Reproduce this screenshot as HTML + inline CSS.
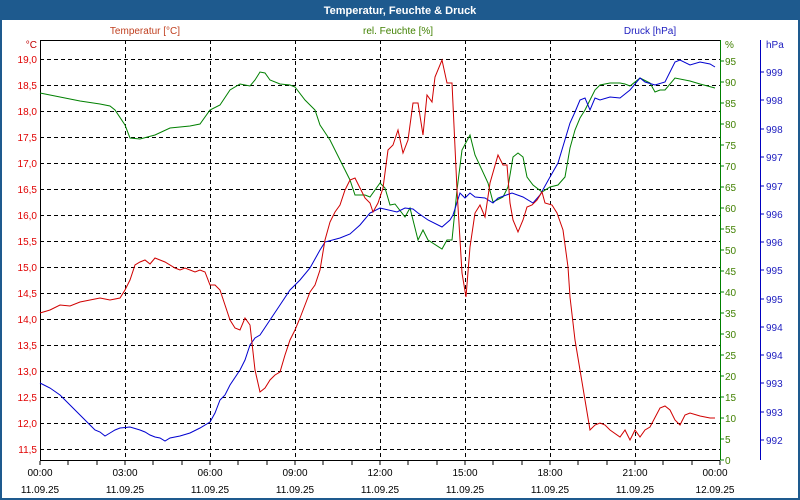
<!DOCTYPE html>
<html><head><meta charset="utf-8"><style>
html,body{margin:0;padding:0;background:#fff}
svg{display:block;font-family:"Liberation Sans",sans-serif}
</style></head><body>
<svg width="800" height="500" viewBox="0 0 800 500" xmlns="http://www.w3.org/2000/svg">
<rect x="0" y="0" width="800" height="500" fill="#fff"/>
<rect x="1" y="1" width="798" height="498" fill="none" stroke="#1e5a8e" stroke-width="2"/>
<rect x="0" y="0" width="800" height="20" fill="#1e5a8e"/>
<text x="400" y="14" font-size="11" font-weight="bold" fill="#fff" text-anchor="middle">Temperatur, Feuchte &amp; Druck</text>
<text x="145" y="34" font-size="10" fill="#c04020" text-anchor="middle">Temperatur [°C]</text>
<text x="398" y="34" font-size="10" fill="#408000" text-anchor="middle">rel. Feuchte [%]</text>
<text x="650" y="34" font-size="10" fill="#2020c0" text-anchor="middle">Druck [hPa]</text>
<g stroke="#000" stroke-dasharray="4,3" stroke-width="1">
<path d="M125.5 40V460M210.5 40V460M295.5 40V460M380.5 40V460M465.5 40V460M550.5 40V460M635.5 40V460"/>
<path d="M40 59.5H720M40 85.5H720M40 111.5H720M40 137.5H720M40 163.5H720M40 189.5H720M40 215.5H720M40 241.5H720M40 267.5H720M40 293.5H720M40 319.5H720M40 345.5H720M40 371.5H720M40 397.5H720M40 423.5H720M40 449.5H720"/>
</g>
<path d="M40.5 40V460.5H720M40 40.5H720" stroke="#000" fill="none"/>
<path d="M720.5 40V460" stroke="#008000"/>
<path d="M760.5 40V460" stroke="#0000c0"/>
<g stroke="#000"><path d="M40 461v4M68 461v4M97 461v4M125 461v4M153 461v4M182 461v4M210 461v4M238 461v4M267 461v4M295 461v4M323 461v4M352 461v4M380 461v4M408 461v4M437 461v4M465 461v4M493 461v4M522 461v4M550 461v4M578 461v4M607 461v4M635 461v4M663 461v4M692 461v4M720 461v4"/></g>
<g font-size="10" fill="#000" text-anchor="middle">
<text x="40" y="476">00:00</text><text x="40" y="493">11.09.25</text>
<text x="125" y="476">03:00</text><text x="125" y="493">11.09.25</text>
<text x="210" y="476">06:00</text><text x="210" y="493">11.09.25</text>
<text x="295" y="476">09:00</text><text x="295" y="493">11.09.25</text>
<text x="380" y="476">12:00</text><text x="380" y="493">11.09.25</text>
<text x="465" y="476">15:00</text><text x="465" y="493">11.09.25</text>
<text x="550" y="476">18:00</text><text x="550" y="493">11.09.25</text>
<text x="635" y="476">21:00</text><text x="635" y="493">11.09.25</text>
<text x="715" y="476">00:00</text><text x="715" y="493">12.09.25</text>
</g>
<g font-size="10" fill="#e00000" text-anchor="end">
<text x="37" y="48" fill="#c00000">°C</text>
<text x="37" y="63">19,0</text><text x="37" y="89">18,5</text><text x="37" y="115">18,0</text><text x="37" y="141">17,5</text><text x="37" y="167">17,0</text><text x="37" y="193">16,5</text><text x="37" y="219">16,0</text><text x="37" y="245">15,5</text><text x="37" y="271">15,0</text><text x="37" y="297">14,5</text><text x="37" y="323">14,0</text><text x="37" y="349">13,5</text><text x="37" y="375">13,0</text><text x="37" y="401">12,5</text><text x="37" y="427">12,0</text><text x="37" y="453">11,5</text>
</g>
<g stroke="#008000"><path d="M720 61h4M720 82h4M720 103h4M720 124h4M720 145h4M720 166h4M720 187h4M720 208h4M720 229h4M720 250h4M720 271h4M720 292h4M720 313h4M720 334h4M720 355h4M720 376h4M720 397h4M720 418h4M720 439h4M720 460h4"/></g>
<g font-size="10" fill="#408000">
<text x="725" y="48">%</text>
<text x="725" y="65">95</text><text x="725" y="86">90</text><text x="725" y="107">85</text><text x="725" y="128">80</text><text x="725" y="149">75</text><text x="725" y="170">70</text><text x="725" y="191">65</text><text x="725" y="212">60</text><text x="725" y="233">55</text><text x="725" y="254">50</text><text x="725" y="275">45</text><text x="725" y="296">40</text><text x="725" y="317">35</text><text x="725" y="338">30</text><text x="725" y="359">25</text><text x="725" y="380">20</text><text x="725" y="401">15</text><text x="725" y="422">10</text><text x="725" y="443">5</text><text x="725" y="464">0</text>
</g>
<g stroke="#0000c0"><path d="M760 72h4M760 100h4M760 129h4M760 157h4M760 186h4M760 214h4M760 242h4M760 270h4M760 299h4M760 327h4M760 355h4M760 383h4M760 412h4M760 440h4"/></g>
<g font-size="10" fill="#2020c0">
<text x="766" y="48">hPa</text>
<text x="766" y="76">999</text><text x="766" y="104">998</text><text x="766" y="133">998</text><text x="766" y="161">997</text><text x="766" y="190">997</text><text x="766" y="218">996</text><text x="766" y="246">996</text><text x="766" y="274">995</text><text x="766" y="303">995</text><text x="766" y="331">994</text><text x="766" y="359">994</text><text x="766" y="387">993</text><text x="766" y="416">993</text><text x="766" y="444">992</text>
</g>
<polyline fill="none" stroke="#008000" stroke-width="1" points="40,93 60,97 80,101 100,104 110,106 115,110 125,125 130,138 140,139 155,135 170,128 190,126 200,124 210,110 220,105 230,90 240,84 250,86 255,80 260,72 265,73 270,80 280,84 290,85 295,87 305,100 315,110 320,125 330,140 340,160 345,170 350,180 355,195 365,195 370,197 380,183 385,188 390,205 395,204 405,217 410,208 418,240 423,230 428,240 442,249 447,240 452,240 457,190 462,150 470,135 475,155 488,183 493,202 503,197 508,187 513,157 518,153 523,157 527,177 533,185 542,192 550,187 558,185 565,177 570,148 575,130 580,118 585,110 590,100 595,90 600,85 610,83 620,83 625,84 630,86 640,78 650,83 655,92 660,90 665,90 675,78 690,81 700,84 715,88"/>
<polyline fill="none" stroke="#0000d0" stroke-width="1" points="40,383 50,388 60,395 65,400 70,405 80,415 90,425 95,430 100,432 105,436 110,433 115,430 120,428 130,427 140,430 145,432 150,435 155,437 160,438 165,441 170,438 180,436 190,433 200,428 210,422 215,413 220,400 225,395 230,385 240,370 245,360 250,345 255,338 260,335 270,320 280,305 290,290 300,280 310,268 320,250 325,242 340,238 350,234 360,225 370,213 380,208 397,212 405,208 413,209 418,213 428,220 442,227 450,220 453,215 460,193 465,198 470,193 475,197 485,198 493,203 498,198 512,193 523,197 533,203 540,195 550,177 558,163 570,123 575,112 580,100 585,98 590,110 595,98 600,100 610,97 620,98 630,90 640,78 645,82 655,85 665,82 675,62 680,60 690,65 700,62 710,64 715,67"/>
<polyline fill="none" stroke="#d00000" stroke-width="1" points="40,313 50,310 60,305 70,306 80,302 90,300 100,298 110,300 120,298 125,290 130,280 135,265 140,262 145,260 150,264 155,258 165,262 175,268 180,270 185,268 195,272 200,270 205,272 210,285 215,285 220,290 225,305 230,320 235,328 240,330 245,318 250,325 255,370 260,392 265,388 270,380 275,375 280,372 285,355 290,340 295,330 300,318 305,305 310,292 315,285 320,270 325,240 330,222 335,212 340,205 345,190 350,180 355,178 360,188 365,198 370,203 373,212 378,203 383,188 388,150 393,145 398,130 403,153 408,140 413,103 418,103 423,135 427,95 432,102 435,77 442,60 447,83 452,83 457,190 462,273 466,297 470,247 475,213 480,205 485,217 490,183 498,155 503,165 507,165 510,203 513,220 518,232 523,220 527,207 532,205 537,200 542,192 545,203 552,205 557,213 563,230 568,267 570,297 575,340 580,370 585,400 590,430 595,425 600,423 605,425 610,430 620,437 625,430 630,440 635,430 640,437 645,430 650,427 660,408 665,406 670,410 675,420 680,425 685,415 690,413 700,416 710,418 715,418"/>
</svg>
</body></html>
